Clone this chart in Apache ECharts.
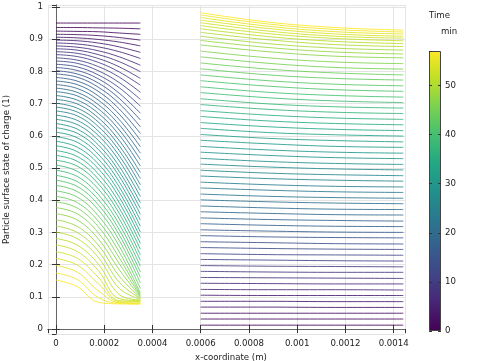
<!DOCTYPE html>
<html><head><meta charset="utf-8">
<script src="https://cdn.jsdelivr.net/npm/echarts@6/dist/echarts.min.js"></script>
<style>html,body{margin:0;padding:0;background:#fff}#c{width:482px;height:361px}</style>
</head><body><div id="c"></div>
<script>
// ---- data ----
const timeMin = [0,1,2,3,4,5,6,7,8,9,10,11,12,13,14,15,16,17,18,19,20,21,22,23,24,25,26,27,28,29,30,31,32,33,34,35,36,37,38,39,40,41,42,43,44,45,46,47,48,49,50,51,52,53,54,55,56,57];
const colorbarMax = 57;
// negative electrode: x positions of the sampled columns (m)
const xNeg = [0, 0.0000875, 0.000175, 0.0002625, 0.00035];
const negAtX0 = [0.950,0.936,0.925,0.915,0.906,0.897,0.888,0.879,0.870,0.861,0.852,0.842,0.832,0.822,0.812,0.802,0.792,0.781,0.770,0.759,0.748,0.737,0.725,0.713,0.701,0.689,0.677,0.664,0.651,0.638,0.625,0.611,0.597,0.583,0.569,0.554,0.539,0.524,0.509,0.493,0.477,0.462,0.446,0.429,0.412,0.395,0.377,0.358,0.339,0.320,0.301,0.281,0.261,0.240,0.219,0.197,0.174,0.152];
const negAtX1 = [0.950,0.936,0.924,0.914,0.904,0.895,0.885,0.875,0.866,0.856,0.846,0.835,0.825,0.814,0.803,0.792,0.782,0.770,0.759,0.747,0.735,0.724,0.711,0.699,0.686,0.674,0.662,0.648,0.635,0.621,0.608,0.594,0.580,0.565,0.551,0.536,0.521,0.506,0.490,0.474,0.458,0.443,0.427,0.410,0.393,0.376,0.358,0.339,0.319,0.300,0.281,0.261,0.241,0.220,0.199,0.177,0.154,0.132];
const negAtX2 = [0.950,0.935,0.923,0.911,0.899,0.888,0.876,0.864,0.852,0.840,0.828,0.815,0.802,0.789,0.777,0.764,0.751,0.738,0.724,0.711,0.697,0.684,0.670,0.656,0.643,0.629,0.615,0.601,0.586,0.572,0.558,0.543,0.528,0.513,0.498,0.482,0.466,0.451,0.435,0.418,0.402,0.386,0.370,0.352,0.335,0.318,0.299,0.280,0.261,0.242,0.223,0.202,0.182,0.161,0.141,0.119,0.098,0.083];
const negAtX3 = [0.950,0.934,0.919,0.905,0.891,0.876,0.861,0.845,0.830,0.814,0.798,0.782,0.765,0.749,0.732,0.716,0.700,0.683,0.667,0.650,0.634,0.618,0.602,0.585,0.569,0.554,0.538,0.522,0.505,0.489,0.474,0.457,0.441,0.425,0.409,0.392,0.375,0.359,0.342,0.325,0.308,0.292,0.275,0.257,0.239,0.221,0.203,0.184,0.164,0.145,0.126,0.107,0.094,0.088,0.085,0.082,0.080,0.078];
const negAtX4 = [0.950,0.932,0.915,0.897,0.879,0.859,0.840,0.819,0.799,0.778,0.757,0.735,0.713,0.692,0.670,0.649,0.628,0.607,0.586,0.566,0.546,0.526,0.506,0.486,0.467,0.448,0.430,0.411,0.392,0.374,0.356,0.338,0.319,0.301,0.284,0.266,0.248,0.230,0.213,0.195,0.177,0.160,0.143,0.126,0.112,0.106,0.102,0.100,0.097,0.095,0.092,0.090,0.088,0.086,0.084,0.081,0.079,0.077];
// positive electrode columns
const xPos = [0.0006, 0.00088, 0.00116, 0.00144];
const posAtX0 = [0.012,0.031,0.049,0.068,0.086,0.105,0.123,0.142,0.160,0.179,0.197,0.216,0.234,0.253,0.271,0.290,0.308,0.327,0.345,0.364,0.382,0.401,0.419,0.438,0.456,0.475,0.493,0.512,0.530,0.549,0.567,0.586,0.604,0.623,0.641,0.660,0.678,0.697,0.715,0.734,0.752,0.771,0.789,0.808,0.826,0.845,0.863,0.882,0.896,0.909,0.921,0.932,0.942,0.951,0.959,0.967,0.975,0.982];
const posAtX1 = [0.012,0.031,0.049,0.068,0.086,0.104,0.122,0.141,0.159,0.177,0.195,0.214,0.231,0.250,0.268,0.286,0.304,0.322,0.340,0.359,0.376,0.395,0.412,0.431,0.448,0.467,0.484,0.503,0.520,0.539,0.556,0.575,0.592,0.610,0.628,0.646,0.664,0.682,0.699,0.718,0.735,0.754,0.771,0.789,0.807,0.825,0.842,0.861,0.874,0.886,0.898,0.908,0.917,0.925,0.933,0.940,0.947,0.953];
const posAtX2 = [0.012,0.031,0.049,0.067,0.085,0.104,0.122,0.140,0.158,0.176,0.194,0.212,0.230,0.248,0.265,0.284,0.301,0.319,0.337,0.355,0.372,0.391,0.408,0.426,0.443,0.462,0.479,0.497,0.514,0.532,0.549,0.567,0.585,0.603,0.620,0.638,0.655,0.673,0.690,0.708,0.725,0.743,0.760,0.778,0.795,0.812,0.829,0.847,0.860,0.872,0.883,0.893,0.902,0.909,0.916,0.923,0.930,0.936];
const posAtX3 = [0.012,0.031,0.049,0.067,0.085,0.104,0.121,0.140,0.157,0.176,0.193,0.211,0.229,0.247,0.264,0.283,0.300,0.318,0.335,0.354,0.371,0.389,0.406,0.424,0.441,0.459,0.476,0.494,0.511,0.529,0.546,0.564,0.581,0.599,0.616,0.634,0.651,0.669,0.686,0.703,0.720,0.738,0.755,0.773,0.789,0.807,0.824,0.842,0.854,0.866,0.877,0.886,0.895,0.903,0.909,0.916,0.922,0.928];

// ---- styling helpers ----
const viridisStops = ['#440154','#482475','#414487','#355f8d','#2a788e','#21918c','#22a884','#44bf70','#7ad151','#bddf26','#fde725'];
function hex2rgb(h){return [parseInt(h.slice(1,3),16),parseInt(h.slice(3,5),16),parseInt(h.slice(5,7),16)];}
function viridis(f){
  f=Math.max(0,Math.min(1,f));
  const p=f*(viridisStops.length-1), i=Math.min(Math.floor(p),viridisStops.length-2), r=p-i;
  const a=hex2rgb(viridisStops[i]), b=hex2rgb(viridisStops[i+1]);
  return 'rgb('+a.map((v,j)=>Math.round(v+(b[j]-v)*r)).join(',')+')';
}
const negCols = [negAtX0,negAtX1,negAtX2,negAtX3,negAtX4];
const posCols = [posAtX0,posAtX1,posAtX2,posAtX3];
const FONT = 'DejaVu Sans', FS = 8.6, TXT = '#222';
const series = [];
timeMin.forEach((t,k)=>{
  const c = viridis(t/colorbarMax);
  series.push({type:'line',xAxisIndex:0,yAxisIndex:0,silent:true,symbol:'none',smooth:0.4,
    data:xNeg.map((x,j)=>[x,negCols[j][k]]),lineStyle:{width:1,color:c,opacity:0.85},z:2});
  series.push({type:'line',xAxisIndex:0,yAxisIndex:0,silent:true,symbol:'none',smooth:0.4,
    data:xPos.map((x,j)=>[x,posCols[j][k]]),lineStyle:{width:1,color:c,opacity:0.85},z:2});
});
series.push({type:'bar',xAxisIndex:2,yAxisIndex:2,silent:true,barWidth:'100%',data:[colorbarMax],
  itemStyle:{borderColor:'#444',borderWidth:1,color:new echarts.graphic.LinearGradient(0,1,0,0,viridisStops.map((c,i)=>({offset:i/(viridisStops.length-1),color:c})))}});

const axisFrame = {lineStyle:{color:'#666',width:1}};
const xMin=-0.000033, xMax=0.001447, yMin=-0.0155, yMax=1.006;
const option = {
  animation:false,
  grid:[{left:48,right:77,top:5,bottom:27,outerBoundsMode:'none',containLabel:false},
        {left:429,top:51,width:12,height:280,outerBoundsMode:'none',containLabel:false}],
  xAxis:[
    {type:'value',gridIndex:0,min:xMin,max:xMax,splitNumber:7,position:'bottom',
      name:'x-coordinate (m)',nameLocation:'middle',nameGap:11,nameTextStyle:{fontFamily:FONT,fontSize:FS,color:TXT,padding:[0,0,0,9]},
      axisLine:axisFrame,axisTick:{inside:true,length:4,lineStyle:{color:'#333'}},
      axisLabel:{fontFamily:FONT,fontSize:FS,color:TXT,margin:5,showMinLabel:false,showMaxLabel:false,formatter:v=>String(+v.toFixed(5))},
      splitLine:{show:true,lineStyle:{color:'#e4e4e4',width:1}}},
    {type:'value',gridIndex:0,min:xMin,max:xMax,splitNumber:7,position:'top',
      axisLine:axisFrame,axisTick:{inside:true,length:4,lineStyle:{color:'#333'}},axisLabel:{show:false},splitLine:{show:false}},
    {type:'category',gridIndex:1,data:[''],show:false}
  ],
  yAxis:[
    {type:'value',gridIndex:0,min:yMin,max:yMax,splitNumber:10,position:'left',
      name:'Particle surface state of charge (1)',nameLocation:'middle',nameGap:37,nameRotate:90,nameTextStyle:{fontFamily:FONT,fontSize:FS,color:TXT},
      axisLine:axisFrame,axisTick:{inside:true,length:4,lineStyle:{color:'#333'}},
      axisLabel:{fontFamily:FONT,fontSize:FS,color:TXT,margin:5,showMinLabel:false,showMaxLabel:false,formatter:v=>String(+v.toFixed(2))},
      splitLine:{show:true,lineStyle:{color:'#e4e4e4',width:1}}},
    {type:'value',gridIndex:0,min:yMin,max:yMax,splitNumber:10,position:'right',
      axisLine:axisFrame,axisTick:{inside:true,length:4,lineStyle:{color:'#333'}},axisLabel:{show:false},splitLine:{show:false}},
    {type:'value',gridIndex:1,min:0,max:colorbarMax,interval:10,position:'right',z:10,
      axisLine:{show:false},axisTick:{show:true,inside:true,length:3,lineStyle:{color:'#333'}},
      axisLabel:{fontFamily:FONT,fontSize:FS,color:TXT,margin:4,showMaxLabel:false},splitLine:{show:false}},
    {type:'value',gridIndex:1,min:0,max:colorbarMax,interval:10,position:'left',z:10,
      axisLine:{show:false},axisTick:{show:true,inside:true,length:3,lineStyle:{color:'#333'}},
      axisLabel:{show:false},splitLine:{show:false}}
  ],
  graphic:[
    {type:'text',left:429,top:11,style:{text:'Time',fontFamily:FONT,fontSize:FS,fill:TXT}},
    {type:'text',left:441,top:27,style:{text:'min',fontFamily:FONT,fontSize:FS,fill:TXT}}
  ],
  series:series
};
const chart = echarts.init(document.getElementById('c'),null,{renderer:'canvas'});
chart.setOption(option);
</script></body></html>
